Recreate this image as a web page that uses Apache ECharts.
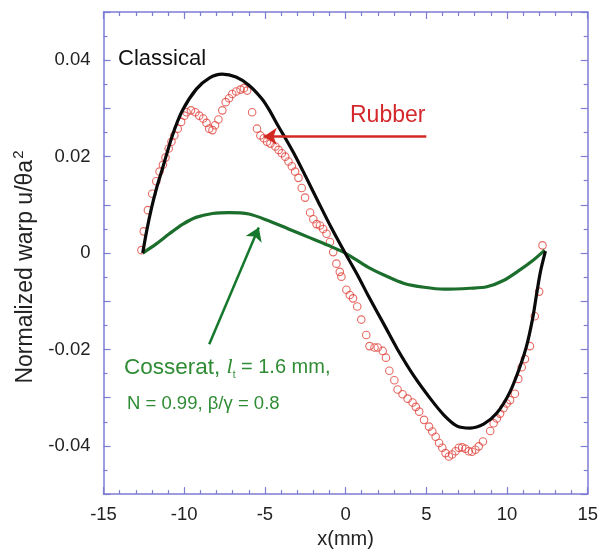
<!DOCTYPE html>
<html>
<head>
<meta charset="utf-8">
<script src="https://cdn.jsdelivr.net/npm/echarts@6/dist/echarts.min.js"></script>
<style>html,body{margin:0;padding:0;background:#fff;}#c{width:601px;height:554px;}</style>
</head>
<body>
<div id="c"></div>
<script>
// ---- data ----
const rubberX = [-12.65,-12.51,-12.25,-11.98,-11.73,-11.53,-11.32,-11.16,-10.96,-10.79,
  -10.61,-10.40,-10.19,-9.99,-9.85,-9.58,-9.31,-9.07,-8.82,-8.62,
  -8.45,-8.25,-8.09,-7.88,-7.64,-7.43,-7.22,-7.02,-6.78,-6.51,
  -6.30,-6.10,-5.79,-5.49,-5.28,-5.07,-4.87,-4.66,-4.35,-4.15,
  -3.95,-3.74,-3.54,-3.33,-3.13,-2.92,-2.72,-2.51,-2.20,-2.00,
  -1.80,-1.59,-1.39,-1.18,-0.97,-0.77,-0.57,-0.36,-0.26,0.05,
  0.26,0.46,0.72,0.97,1.28,1.48,1.79,1.99,2.30,2.50,
  2.71,3.02,3.22,3.53,3.84,4.15,4.35,4.56,4.86,5.17,
  5.37,5.58,5.79,5.99,6.19,6.40,6.60,6.81,7.02,7.22,
  7.42,7.63,7.83,8.04,8.25,8.51,8.96,9.17,9.37,9.57,
  9.78,9.98,10.19,10.49,10.70,10.91,11.11,11.42,11.72,11.99,
  12.20];
const rubberY = [0.0006,0.0045,0.0089,0.0123,0.0149,0.0169,0.0183,0.0198,0.0217,0.0231,
  0.0244,0.0258,0.0272,0.0285,0.0292,0.0296,0.0292,0.0285,0.0279,0.0270,
  0.0258,0.0255,0.0265,0.0277,0.0296,0.0313,0.0321,0.0330,0.0335,0.0339,
  0.0342,0.0337,0.0292,0.0258,0.0244,0.0238,0.0231,0.0227,0.0221,0.0214,
  0.0207,0.0200,0.0190,0.0180,0.0169,0.0156,0.0135,0.0115,0.0084,0.0070,
  0.0060,0.0057,0.0050,0.0040,0.0023,0.0002,-0.0022,-0.0039,-0.0049,-0.0076,
  -0.0087,-0.0094,-0.0111,-0.0138,-0.0170,-0.0193,-0.0196,-0.0196,-0.0203,-0.0217,
  -0.0244,-0.0264,-0.0283,-0.0293,-0.0302,-0.0310,-0.0319,-0.0329,-0.0346,-0.0360,
  -0.0370,-0.0381,-0.0394,-0.0404,-0.0415,-0.0422,-0.0418,-0.0411,-0.0404,-0.0403,
  -0.0406,-0.0411,-0.0412,-0.0408,-0.0401,-0.0391,-0.0369,-0.0353,-0.0343,-0.0333,
  -0.0322,-0.0312,-0.0305,-0.0292,-0.0261,-0.0237,-0.0220,-0.0193,-0.0131,-0.0080,
  0.0016];
const classicalX = [-12.57,-12.33,-12.02,-11.71,-11.34,-10.73,-10.12,-9.25,-8.45,-7.65,
  -6.79,-5.99,-5.19,-4.77,-4.15,-3.66,-3.11,-2.49,-1.69,-0.89,
  -0.03,0.76,1.38,2.41,3.22,4.25,5.25,6.09,6.91,7.71,
  8.55,9.37,10.17,10.78,11.21,11.58,11.83,12.07,12.38];
const classicalY = [0,0.0045,0.0094,0.0135,0.0176,0.0244,0.0295,0.0340,0.0363,0.0371,
  0.0365,0.0348,0.0320,0.0299,0.0262,0.0234,0.0201,0.0160,0.0106,0.0053,
  0,-0.0047,-0.0087,-0.0150,-0.0200,-0.0256,-0.0302,-0.0336,-0.0359,-0.0363,
  -0.0355,-0.0332,-0.0289,-0.0238,-0.0193,-0.0137,-0.0086,-0.0039,0.0004];
const cosseratX = [-12.57,-11.73,-10.92,-10.08,-9.27,-8.25,-7.22,-5.99,-4.77,-3.54,
  -2.31,-1.08,0.03,1.38,2.41,3.63,4.86,6.09,7.73,8.75,
  9.78,10.80,11.62,12.34];
const cosseratY = [0,0.0019,0.0040,0.0060,0.0074,0.0082,0.0084,0.0081,0.0067,0.0050,
  0.0033,0.0016,-0.0001,-0.0029,-0.0046,-0.0063,-0.0071,-0.0075,-0.0073,-0.0070,
  -0.0057,-0.0035,-0.0015,0.0006];
const yTickLabels = ['0.04','0.02','0','-0.02','-0.04'];
// annotation arrows (data coords): [start, end]
const rubberArrow = [[5.0, 0.0242], [-5.07, 0.0242]];
const cosseratArrow = [[-8.45, -0.0189], [-5.38, 0.0053]];

// ---- chart ----
const FONT = "'Liberation Sans', Arial, Helvetica, sans-serif";
const AXC = '#7c7cd4';
const zip = (xs, ys) => xs.map((x, i) => [x, ys[i]]);
const chart = echarts.init(document.getElementById('c'), null, {renderer: 'canvas'});

const baseX = {
  type: 'value', min: -15, max: 15, interval: 5,
  axisLine: {show: true, onZero: false, lineStyle: {color: AXC, width: 1.5}},
  axisTick: {show: true, inside: true, length: 7, lineStyle: {color: AXC, width: 1.2}},
  minorTick: {show: true, splitNumber: 5, length: 4, lineStyle: {color: AXC, width: 1.2}},
  splitLine: {show: false}
};
const baseY = {
  type: 'value', min: -0.05, max: 0.05, interval: 0.01,
  axisLine: {show: true, onZero: false, lineStyle: {color: AXC, width: 1.5}},
  axisTick: {show: true, inside: true, length: 7, lineStyle: {color: AXC, width: 1.2}},
  minorTick: {show: true, splitNumber: 2, length: 4, lineStyle: {color: AXC, width: 1.2}},
  splitLine: {show: false}
};

function fmtY(v) {
  const r = Math.round(v * 1000) / 1000;
  const s = r === 0 ? '0' : String(r);
  return yTickLabels.indexOf(s) >= 0 ? s : '';
}

const option = {
  backgroundColor: '#fff',
  animation: false,
  grid: {left: 103.5, right: 9.5, top: 12, bottom: 54},
  xAxis: [
    Object.assign({}, baseX, {
      position: 'bottom',
      axisLabel: {show: true, margin: 11, color: '#222', fontSize: 18.5, fontFamily: FONT},
      name: 'x(mm)', nameLocation: 'middle', nameGap: 32,
      nameTextStyle: {color: '#222', fontSize: 20, fontFamily: FONT}
    }),
    Object.assign({}, baseX, {position: 'top', axisLabel: {show: false}})
  ],
  yAxis: [
    Object.assign({}, baseY, {
      position: 'left',
      axisLabel: {show: true, margin: 13, color: '#222', fontSize: 18.5, fontFamily: FONT, formatter: fmtY},
      name: 'Normalized warp u/θa{s|2}', nameLocation: 'middle', nameGap: 62,
      nameTextStyle: {
        color: '#222', fontSize: 23, fontFamily: FONT, padding: [0, 28, 0, 0],
        rich: {s: {fontSize: 15, color: '#222', fontFamily: FONT, padding: [0, 0, 15, 1]}}
      }
    }),
    Object.assign({}, baseY, {position: 'right', axisLabel: {show: false}})
  ],
  series: [
    {
      name: 'Cosserat', type: 'line', data: zip(cosseratX, cosseratY),
      smooth: 0.3, showSymbol: false, silent: true,
      lineStyle: {color: '#1b6e2c', width: 3.2}
    },
    {
      name: 'Classical', type: 'line', data: zip(classicalX, classicalY),
      smooth: 0.3, showSymbol: false, silent: true,
      lineStyle: {color: '#0a0a0a', width: 3.2}
    },
    {
      name: 'Rubber', type: 'scatter', data: zip(rubberX, rubberY),
      symbol: 'circle', symbolSize: 7.5, silent: true,
      itemStyle: {color: 'rgba(255,255,255,0)', borderColor: '#e0443c', borderWidth: 1.1}
    },
    {
      name: 'arrows', type: 'line', data: [], silent: true,
      markLine: {
        silent: true, symbol: ['none', 'arrow'], symbolSize: 13, animation: false,
        label: {show: false},
        data: [
          [{coord: rubberArrow[0], lineStyle: {color: '#d22a22', width: 2.5, type: 'solid'}},
           {coord: rubberArrow[1]}],
          [{coord: cosseratArrow[0], lineStyle: {color: '#15782c', width: 2.5, type: 'solid'}},
           {coord: cosseratArrow[1]}]
        ]
      }
    }
  ],
  graphic: [
    {type: 'text', left: 118, top: 48, silent: true,
     style: {text: 'Classical', fill: '#111', fontSize: 22, fontFamily: FONT}},
    {type: 'text', left: 350, top: 104, silent: true,
     style: {text: 'Rubber', fill: '#d4282c', fontSize: 23, fontFamily: FONT}},
    {type: 'text', left: 124, top: 356, silent: true,
     style: {
       text: '{a|Cosserat, }{l|l}{s|t}{b| = 1.6 mm,}',
       fill: '#2f8c34', fontFamily: FONT,
       rich: {
         a: {fontSize: 22.5, fill: '#2f8c34', fontFamily: FONT},
         l: {fontSize: 22, fill: '#2f8c34', fontStyle: 'italic', fontFamily: "'Liberation Serif', serif"},
         s: {fontSize: 10, fill: '#2f8c34', fontFamily: FONT, padding: [16, 0, 0, 0]},
         b: {fontSize: 20, fill: '#2f8c34', fontFamily: FONT}
       }
     }},
    {type: 'text', left: 127, top: 394, silent: true,
     style: {text: 'N = 0.99, β/γ = 0.8', fill: '#2f8c34', fontSize: 18.5, fontFamily: FONT}}
  ]
};
chart.setOption(option);
</script>
</body>
</html>
